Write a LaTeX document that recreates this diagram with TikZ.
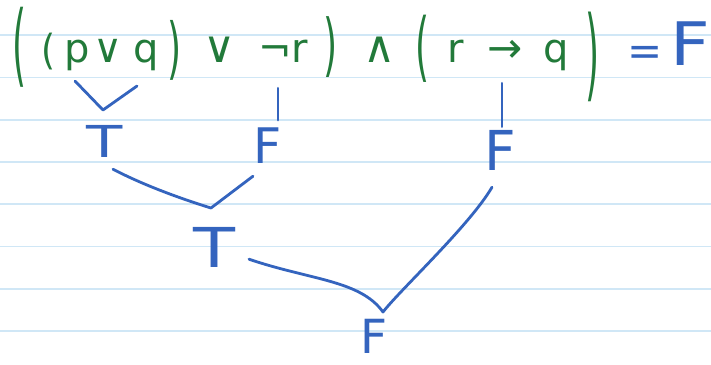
\documentclass[tikz,border=0pt]{standalone}
\usepackage{fontspec}
\setmainfont{DejaVu Sans}
\definecolor{ink}{RGB}{34,122,58}
\definecolor{pen}{RGB}{52,100,190}
\definecolor{rulecol}{RGB}{208,231,246}
\newcommand{\tallglyph}[2]{\scalebox{1}[#1]{#2}}
\newcommand{\wideglyph}[2]{\scalebox{#1}[1]{#2}}
\begin{document}
\begin{tikzpicture}[x=1pt,y=-1pt,
  sym/.style={text=ink, inner sep=0pt, anchor=base, font=\fontsize{40}{40}\selectfont},
  par/.style={text=ink, inner sep=0pt, anchor=center, font=\fontsize{36}{36}\selectfont},
  val/.style={text=pen, inner sep=0pt, anchor=base},
  wire/.style={draw=pen, line width=2.8pt, line cap=round, line join=round},
  ruling/.style={draw=rulecol, line width=1.2pt}]
\fill[white] (0,0) rectangle (711,364);
\useasboundingbox (0,0) rectangle (711,364);
\foreach \yy in {35,77.5,120,162,204,246.5,289,331}
  \draw[ruling] (0,\yy) -- (711,\yy);
% formula
\node[par] (po1) at (20,47) {\tallglyph{2.5}{(}};
\node[par] (po2) at (49,51.5) {\tallglyph{1.15}{(}};
\node[sym] (p) at (77,62) {p};
\node[sym] (or1) at (108,62) {∨};
\node[sym] (q1) at (146,62) {q};
\node[par] (pc1) at (175,50) {\tallglyph{1.87}{)}};
\node[sym, font=\fontsize{44}{44}\selectfont] (or2) at (220,62) {∨};
\node[sym] (nr) at (283,62) {¬r};
\node[par] (pc2) at (331,47.5) {\tallglyph{1.9}{)}};
\node[sym, font=\fontsize{44}{44}\selectfont] (and) at (380,62) {∧};
\node[par] (po3) at (423,48.5) {\tallglyph{2.1}{(}};
\node[sym] (r2) at (456,62) {r};
\node[sym, font=\fontsize{42}{42}\selectfont] (arr) at (505,62) {→};
\node[sym] (q2) at (556,62) {q};
\node[par] (pc3) at (593,57) {\tallglyph{2.8}{)}};
\node[val, font=\fontsize{42}{42}\selectfont] (eq) at (645,65) {=};
\node[val, font=\fontsize{60}{60}\selectfont] (res) at (690,65) {\wideglyph{1.15}{F}};
% values
\node[val, font=\fontsize{44}{44}\selectfont] (T1) at (105,157) {\wideglyph{1.35}{T}};
\node[val, font=\fontsize{49}{49}\selectfont] (F1) at (268,163) {F};
\node[val, font=\fontsize{55}{55}\selectfont] (F2) at (500,170) {F};
\node[val, font=\fontsize{55}{55}\selectfont] (T2) at (214,267) {\wideglyph{1.25}{T}};
\node[val, font=\fontsize{47}{47}\selectfont] (F3) at (374,353) {F};
\coordinate (j1) at (103,110);
\coordinate (j2) at (211,208);
\coordinate (j3) at (383,312);
% connectors
\draw[wire] ([shift={(-2,10.5)}]p.south) -- (j1) -- ([shift={(-9,15.5)}]q1.south);
\draw[wire] ([shift={(-5,26)}]nr.south) -- ([shift={(10,-7)}]F1.north);
\draw[wire] ([shift={(-3,21)}]arr.south) -- ([shift={(2,-3)}]F2.north);
\draw[wire] ([shift={(8,12)}]T1.south) .. controls (145,186) and (185,200) .. (j2) -- ([shift={(-15,13)}]F1.south);
\draw[wire] ([shift={(35,-8)}]T2.south) .. controls (310,280) and (360,280) .. (j3) .. controls (400,290) and (470,225) .. ([shift={(-8,17)}]F2.south);
\end{tikzpicture}
\end{document}
